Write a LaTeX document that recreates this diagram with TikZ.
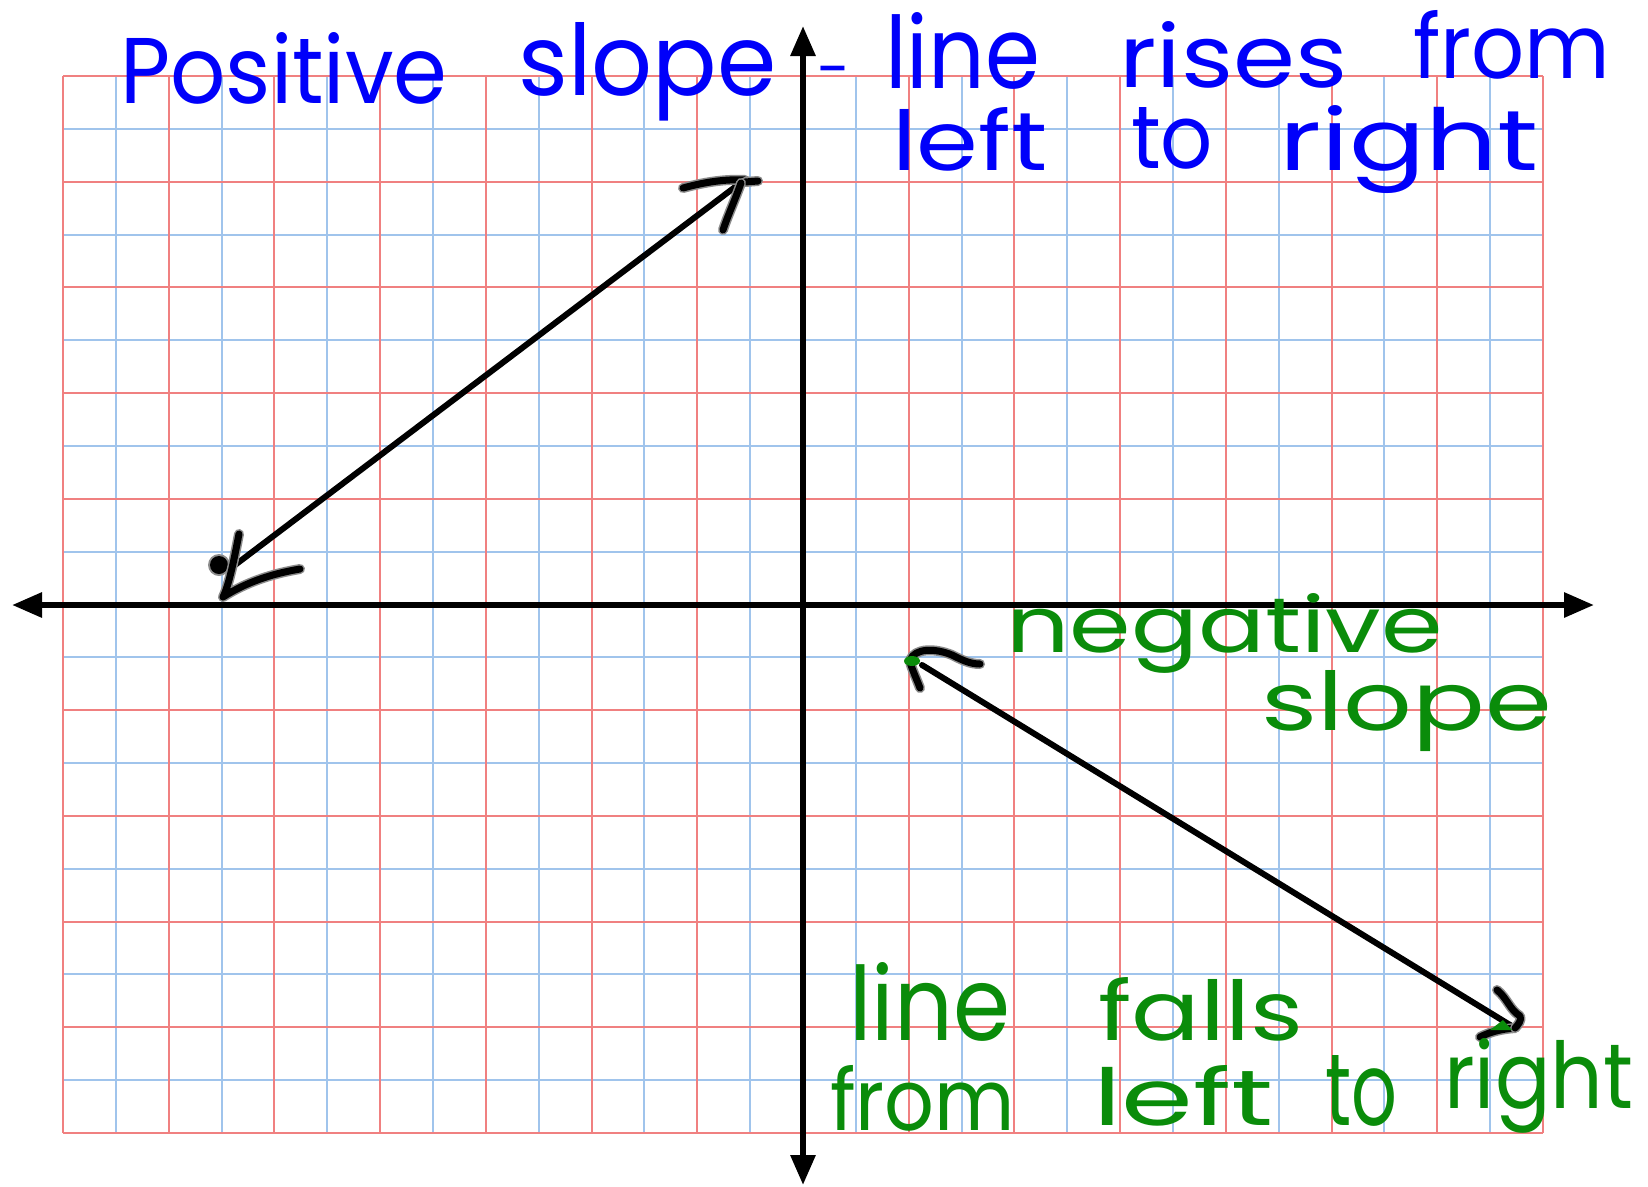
\documentclass[tikz,border=0pt]{standalone}
\usepackage{fontspec}
\setmainfont{Poppins}
\usetikzlibrary{arrows.meta}
\definecolor{gridred}{RGB}{240,128,128}
\definecolor{gridblue}{RGB}{160,196,236}
\definecolor{inkblue}{RGB}{0,0,250}
\definecolor{inkgreen}{RGB}{10,140,10}
\newcommand{\hw}[7]{\node[anchor=base west,inner sep=0pt,text=#6] (#1) at (#2,#3) {\resizebox{#4pt}{#5pt}{#7}};}
\begin{document}
\begin{tikzpicture}[x=1pt,y=-1pt,
  axis/.style={line width=6pt,{Triangle[length=30pt,width=24pt]}-{Triangle[length=30pt,width=24pt]}},
  pen/.style={line width=7pt,line cap=round,line join=round,preaction={draw,black!45,line width=10pt,line cap=round,line join=round}},
  slopeline/.style={line width=6pt,line cap=round}]
\useasboundingbox[fill=white] (0,0) rectangle (1648,1186);
% grid
\foreach \i in {0,...,13} \draw[gridblue,line width=2pt] ({63+105.714*\i+52.857},76) -- ++(0,1057);
\foreach \j in {0,...,9} \draw[gridblue,line width=2pt] (63,{76+105.7*\j+52.85}) -- ++(1480,0);
\foreach \i in {0,...,14} \draw[gridred,line width=2pt] ({63+105.714*\i},76) -- ++(0,1057);
\foreach \j in {0,...,10} \draw[gridred,line width=2pt] (63,{76+105.7*\j}) -- ++(1480,0);
% axes
\coordinate (xl) at (12,605); \coordinate (xr) at (1594,605);
\coordinate (yt) at (803,26); \coordinate (yb) at (803,1185);
\draw[axis] (xl) -- (xr);
\draw[axis] (yb) -- (yt);
% positive slope line
\coordinate (pa) at (235,565); \coordinate (pb) at (743,181);
\draw[slopeline] (pa) -- (pb);
\draw[pen] (683,188) .. controls (705,182) and (725,179) .. (745,180);
\draw[pen] (745,182) -- (758,181);
\draw[pen] (741,183) .. controls (735,200) and (728,215) .. (723,230);
\fill[black!45] (219,565) circle (11pt);
\fill (219,565) circle (9pt);
\draw[pen] (239,534) .. controls (234,560) and (229,585) .. (223,597) .. controls (245,583) and (270,574) .. (300,569);
% negative slope line
\coordinate (na) at (922,665); \coordinate (nb) at (1515,1028);
\draw[slopeline] (na) -- (nb);
\draw[pen] (920,688) .. controls (915,675) and (910,665) .. (910,660) .. controls (915,648) and (935,648) .. (952,655) .. controls (962,660) and (970,664) .. (980,664);
\fill[inkgreen] (912,661) ellipse (8pt and 5pt);
\draw[pen] (1480,1037) .. controls (1492,1031) and (1503,1029) .. (1515,1028);
\draw[pen] (1497,990) .. controls (1507,998) and (1510,1010) .. (1520,1016) .. controls (1522,1020) and (1518,1025) .. (1515,1028);
\fill[inkgreen] (1490,1030) -- (1503,1020) -- (1512,1030) -- cycle;
% blue text
\hw{p1}{120}{103}{327}{71}{inkblue}{Positive}
\hw{p2}{518}{95}{258}{73}{inkblue}{slope}
\node[anchor=base,inner sep=0pt,text=inkblue,font=\fontsize{60}{60}\selectfont] (hy) at (834,90) {-};
\hw{p3}{885}{88}{155}{76}{inkblue}{line}
\hw{p4}{1119}{87}{228}{66}{inkblue}{rises}
\hw{p5}{1413}{78}{197}{68}{inkblue}{from}
\hw{p6}{892}{170}{155}{63}{inkblue}{left}
\hw{p7}{1131}{168}{82}{61}{inkblue}{to}
\hw{p8}{1279}{170}{259}{65}{inkblue}{right}
% green text
\hw{n1}{1006}{652}{436}{59}{inkgreen}{negative}
\hw{n2}{1261}{730}{291}{60}{inkgreen}{slope}
\hw{n3}{849}{1040}{161}{78}{inkgreen}{line}
\hw{n4}{1098}{1040}{205}{63}{inkgreen}{falls}
\hw{n5}{830}{1130}{185}{65}{inkgreen}{from}
\hw{n6}{1093}{1125}{180}{60}{inkgreen}{left}
\hw{n7}{1325}{1125}{72}{70}{inkgreen}{to}
\hw{n8}{1444}{1108}{189}{70}{inkgreen}{right}
\end{tikzpicture}
\end{document}
